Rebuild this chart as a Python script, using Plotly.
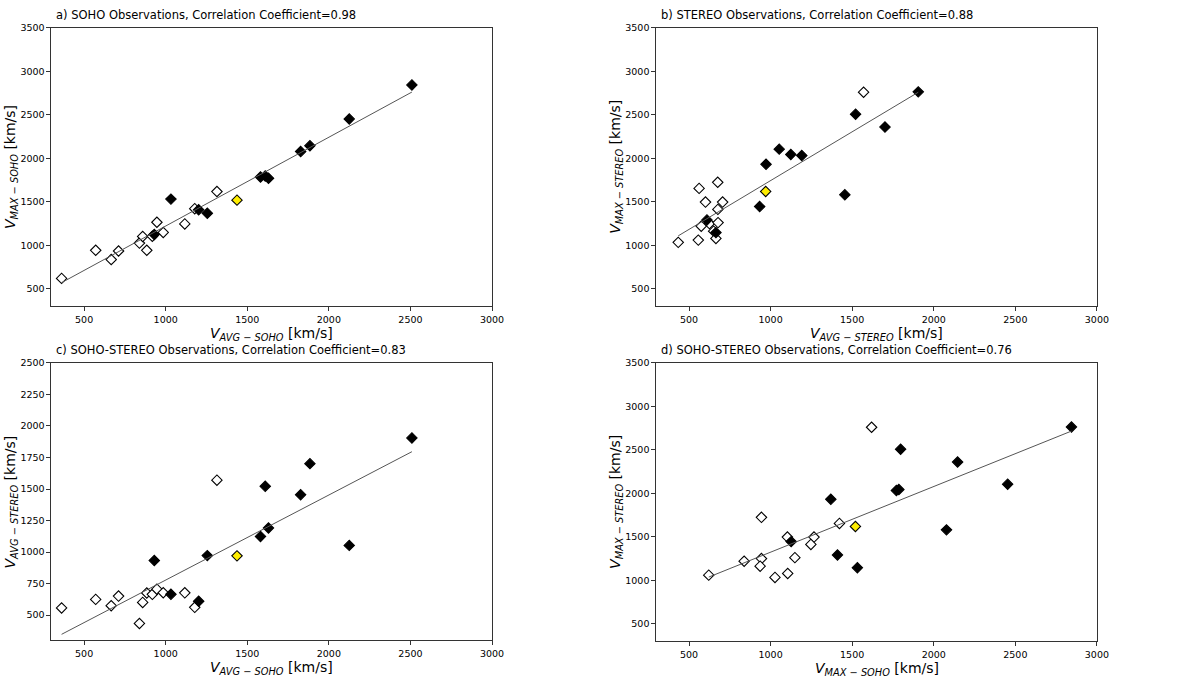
import numpy as np
import plotly.graph_objects as go

# velocidades por evento (km/s)
v_avg_soho = [362, 571, 666, 711, 839, 859, 884, 918, 946, 985, 1117, 1178, 1314,
              930, 1032, 1202, 1255, 1581, 1610, 1630, 1827, 1884, 2125, 2509, 1437]
v_max_soho = [621, 944, 838, 936, 1027, 1103, 944, 1105, 1266, 1149, 1247, 1422, 1619,
              1126, 1532, 1410, 1369, 1786, 1797, 1771, 2078, 2146, 2453, 2844, 1520]
v_avg_stereo = [557, 625, 575, 651, 434, 601, 676, 665, 706, 678, 677, 562, 1570,
                933, 665, 610, 972, 1124, 1521, 1191, 1455, 1701, 1053, 1905, 970]
v_max_stereo = [1061, 1251, 1221, 1164, 1035, 1498, 1725, 1080, 1498, 1262, 1414, 1655, 2760,
                1446, 1147, 1293, 1932, 2045, 2508, 2033, 1581, 2360, 2106, 2764, 1620]
tipo = ['open'] * 13 + ['filled'] * 11 + ['yellow']

titulos = ['a) SOHO Observations, Correlation Coefficient=0.98',
           'b) STEREO Observations, Correlation Coefficient=0.88',
           'c) SOHO-STEREO Observations, Correlation Coefficient=0.83',
           'd) SOHO-STEREO Observations, Correlation Coefficient=0.76']

W, H = 1200, 684


def lbl(a, b):
    return f'<i>V</i><sub><i>{a} \u2212 {b}</i></sub> [km/s]'


# (x, y, caja en px: izq, der, arriba, abajo, rango y, paso y, etiqueta x, etiqueta y)
paneles = [
    (v_avg_soho, v_max_soho, (52, 497, 22, 303), [300, 3500], 500, lbl('AVG', 'SOHO'), lbl('MAX', 'SOHO')),
    (v_avg_stereo, v_max_stereo, (663, 1108, 22, 303), [300, 3500], 500, lbl('AVG', 'STEREO'), lbl('MAX', 'STEREO')),
    (v_avg_soho, v_avg_stereo, (52, 497, 360, 640), [300, 2500], 250, lbl('AVG', 'SOHO'), lbl('AVG', 'STEREO')),
    (v_max_soho, v_max_stereo, (663, 1108, 360, 641), [300, 3500], 500, lbl('MAX', 'SOHO'), lbl('MAX', 'STEREO')),
]

colores = {'open': 'white', 'filled': 'black', 'yellow': '#ffee00'}

fig = go.Figure()
anotaciones = []
fuente = 'DejaVu Sans'

for i, (xs, ys, caja, yr, paso, xl, yl) in enumerate(paneles):
    n = '' if i == 0 else str(i + 1)
    izq, der, arr, aba = caja
    xs = np.array(xs)
    ys = np.array(ys)
    t = np.array(tipo)

    for k in ['open', 'filled', 'yellow']:
        m = t == k
        fig.add_trace(go.Scatter(
            x=xs[m], y=ys[m], mode='markers', xaxis='x' + n, yaxis='y' + n,
            marker=dict(symbol='diamond', size=8, color=colores[k],
                        line=dict(color='black', width=1.1)),
            showlegend=False, hoverinfo='x+y'))

    # recta de ajuste
    p = np.polyfit(xs, ys, 1)
    xf = np.array([xs.min(), xs.max()])
    fig.add_trace(go.Scatter(
        x=xf, y=np.polyval(p, xf), mode='lines', xaxis='x' + n, yaxis='y' + n,
        line=dict(color='#555555', width=1), showlegend=False, hoverinfo='skip'))

    eje = dict(showline=True, mirror=True, linecolor='#333333', linewidth=1,
               ticks='outside', ticklen=4, tickwidth=1, tickcolor='#333333',
               showgrid=False, zeroline=False,
               tickfont=dict(family=fuente, size=9.5, color='black'))
    fig.layout['xaxis' + n] = dict(eje, domain=[izq / W, der / W], range=[300, 3000],
                                   tick0=500, dtick=500, anchor='y' + n)
    fig.layout['yaxis' + n] = dict(eje, domain=[1 - aba / H, 1 - arr / H], range=yr,
                                   tick0=500, dtick=paso, anchor='x' + n)

    anotaciones.append(dict(text=titulos[i], x=(izq + 3) / W, y=1 - (arr - 13) / H,
                            xref='paper', yref='paper', xanchor='left', yanchor='middle',
                            showarrow=False, font=dict(family=fuente, size=11.5, color='black')))
    anotaciones.append(dict(text=xl, x=(izq + der) / 2 / W, y=1 - (aba + 28) / H,
                            xref='paper', yref='paper', xanchor='center', yanchor='middle',
                            showarrow=False, font=dict(family=fuente, size=14, color='black')))
    anotaciones.append(dict(text=yl, x=(izq - 41) / W, y=1 - (arr + aba) / 2 / H,
                            xref='paper', yref='paper', xanchor='center', yanchor='middle',
                            textangle=-90, showarrow=False,
                            font=dict(family=fuente, size=14, color='black')))

fig.update_layout(
    width=W, height=H,
    margin=dict(l=0, r=0, t=0, b=0),
    plot_bgcolor='white', paper_bgcolor='white',
    annotations=anotaciones,
    showlegend=False
)

# quitar el margen del body para que la figura ocupe toda la ventana
fig.write_html('out.html', config={'displayModeBar': False},
               post_script="document.body.style.margin='0';")
